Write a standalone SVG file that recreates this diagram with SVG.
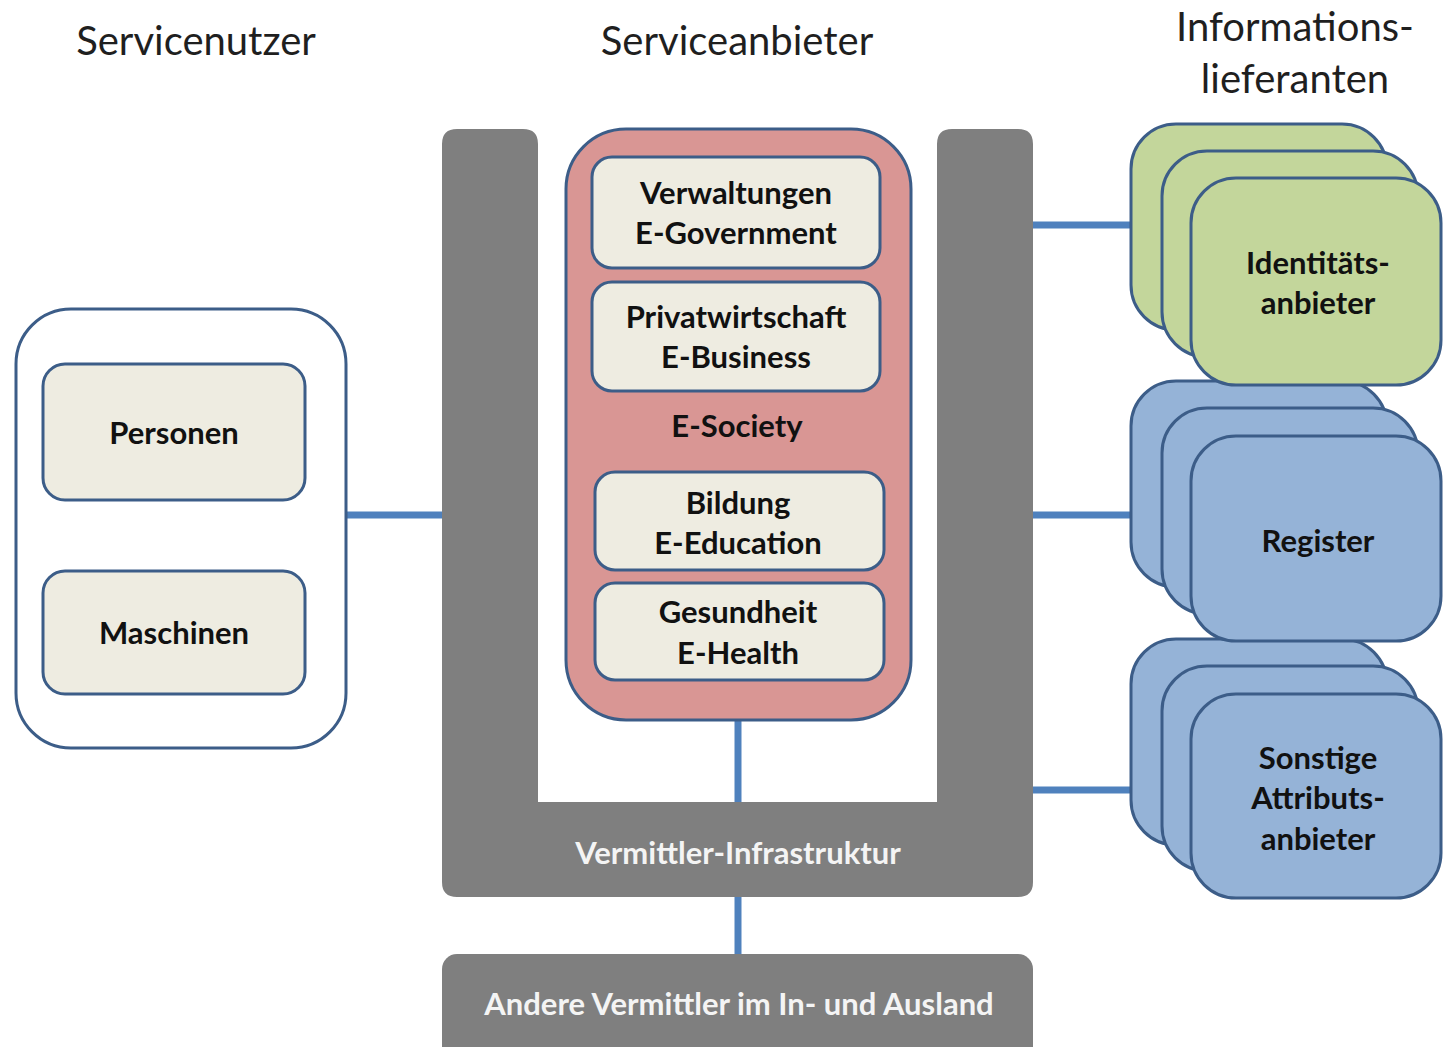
<svg xmlns="http://www.w3.org/2000/svg" width="1443" height="1047" viewBox="0 0 1443 1047">
<style>
  .title { font-family: Lato, "Open Sans", sans-serif; font-size: 40px; fill: #1f1f1f; text-anchor: middle; }
  .lbl { font-family: Lato, "Open Sans", sans-serif; font-weight: bold; font-size: 31px; fill: #111; text-anchor: middle; dominant-baseline: central; }
  .wlbl { font-family: Lato, "Open Sans", sans-serif; font-weight: bold; font-size: 31px; fill: #f4f4f4; text-anchor: middle; dominant-baseline: central; }
  .edge { stroke: #4f81bd; stroke-width: 7; fill: none; }
  .cream { fill: #eeece1; stroke: #3c5d88; stroke-width: 3; }
  .green { fill: #c3d69b; stroke: #3c5d88; stroke-width: 3; }
  .blue { fill: #95b3d7; stroke: #3c5d88; stroke-width: 3; }
  .gray { fill: #7f7f7f; }
</style>

<text class="title" x="196" y="55">Servicenutzer</text>
<text class="title" x="737" y="55">Serviceanbieter</text>
<text class="title" x="1295" y="41">Informations-</text>
<text class="title" x="1295" y="93">lieferanten</text>

<g id="connectors">
  <line class="edge" x1="343" y1="515" x2="446" y2="515"/>
  <line class="edge" x1="1030" y1="225" x2="1133" y2="225"/>
  <line class="edge" x1="1030" y1="515" x2="1133" y2="515"/>
  <line class="edge" x1="1030" y1="790" x2="1133" y2="790"/>
  <line class="edge" x1="738" y1="718" x2="738" y2="803"/>
  <line class="edge" x1="738" y1="895" x2="738" y2="957"/>
</g>

<g id="servicenutzer">
  <rect x="16" y="309" width="330" height="439" rx="55" fill="#ffffff" stroke="#3c5d88" stroke-width="3"/>
</g>
<g id="personen">
  <rect class="cream" x="43" y="364" width="262" height="136" rx="22"/>
  <text class="lbl" x="174" y="432">Personen</text>
</g>
<g id="maschinen">
  <rect class="cream" x="43" y="571" width="262" height="123" rx="22"/>
  <text class="lbl" x="174" y="632">Maschinen</text>
</g>

<g id="vermittler-infrastruktur">
  <path class="gray" d="M457,129 H523 Q538,129 538,144 V802 H937 V144 Q937,129 952,129 H1018 Q1033,129 1033,144 V882 Q1033,897 1018,897 H457 Q442,897 442,882 V144 Q442,129 457,129 Z"/>
  <text class="wlbl" x="738" y="852">Vermittler-Infrastruktur</text>
</g>

<g id="e-society">
  <rect x="566" y="129" width="345" height="591" rx="60" fill="#d99694" stroke="#3c5d88" stroke-width="3"/>
  <text class="lbl" x="737" y="425" fill="#2a1a1a">E-Society</text>
</g>
<g id="verwaltungen">
  <rect class="cream" x="592" y="157" width="288" height="111" rx="20"/>
  <text class="lbl" x="736" y="192">Verwaltungen</text>
  <text class="lbl" x="736" y="232">E-Government</text>
</g>
<g id="privatwirtschaft">
  <rect class="cream" x="592" y="282" width="288" height="109" rx="20"/>
  <text class="lbl" x="736" y="316">Privatwirtschaft</text>
  <text class="lbl" x="736" y="356">E-Business</text>
</g>
<g id="bildung">
  <rect class="cream" x="595" y="472" width="289" height="98" rx="20"/>
  <text class="lbl" x="738" y="502">Bildung</text>
  <text class="lbl" x="738" y="542">E-Education</text>
</g>
<g id="gesundheit">
  <rect class="cream" x="595" y="583" width="289" height="97" rx="20"/>
  <text class="lbl" x="738" y="611">Gesundheit</text>
  <text class="lbl" x="738" y="652">E-Health</text>
</g>

<g id="andere-vermittler">
  <rect class="gray" x="442" y="954" width="591" height="110" rx="15"/>
  <text class="wlbl" x="739" y="1003">Andere Vermittler im In- und Ausland</text>
</g>

<g id="sonstige-attributsanbieter">
  <rect class="blue" x="1131" y="639" width="256" height="206" rx="45"/>
  <rect class="blue" x="1162" y="666" width="256" height="205" rx="45"/>
  <rect class="blue" x="1191" y="694" width="250" height="204" rx="45"/>
  <text class="lbl" x="1318" y="757">Sonstige</text>
  <text class="lbl" x="1318" y="797">Attributs-</text>
  <text class="lbl" x="1318" y="838">anbieter</text>
</g>

<g id="register">
  <rect class="blue" x="1131" y="381" width="256" height="206" rx="45"/>
  <rect class="blue" x="1162" y="408" width="256" height="206" rx="45"/>
  <rect class="blue" x="1191" y="436" width="250" height="205" rx="45"/>
  <text class="lbl" x="1318" y="540">Register</text>
</g>

<g id="identitaetsanbieter">
  <rect class="green" x="1131" y="124" width="256" height="206" rx="45"/>
  <rect class="green" x="1162" y="151" width="256" height="206" rx="45"/>
  <rect class="green" x="1191" y="178" width="250" height="207" rx="45"/>
  <text class="lbl" x="1318" y="262">Identitäts-</text>
  <text class="lbl" x="1318" y="302">anbieter</text>
</g>
</svg>
